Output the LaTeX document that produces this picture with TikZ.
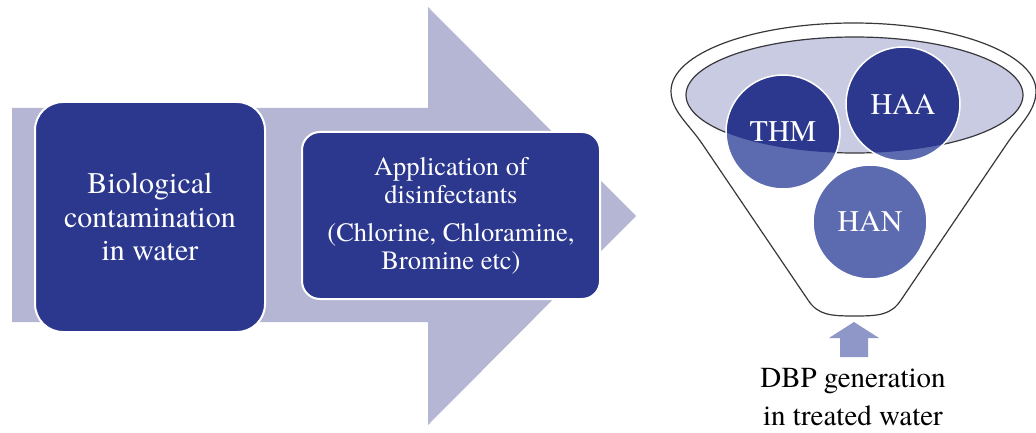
\documentclass[tikz,border=0pt]{standalone}
\usepackage{fontspec}
\setmainfont{texgyretermes-regular.otf}
\usepackage{tikz}
\usetikzlibrary{calc}
\definecolor{navy}{RGB}{43,56,142}
\definecolor{midblue}{RGB}{92,107,176}
\definecolor{lavender}{RGB}{180,182,212}
\definecolor{rimfill}{RGB}{201,203,226}
\definecolor{upblue}{RGB}{142,151,200}
\definecolor{edge}{RGB}{55,55,60}

\begin{document}
\begin{tikzpicture}[x=1pt,y=-1pt,
	blockbox/.style={draw=white,line width=2pt,fill=navy,text=white,rounded corners=#1,align=center},
	dbpball/.style={circle,draw=white,line width=1.5pt,fill=midblue,text=white,minimum size=114pt,inner sep=0pt,font=\fontsize{30}{32}\selectfont}]
	\useasboundingbox (0,0) rectangle (1036,433);
	
	%big arrow
	\fill[lavender] (12,108) -- (428,108) -- (428,7) -- (636,216) -- (428,425) -- (428,322) -- (12,322) -- cycle;
	
	\node[blockbox=28pt,minimum width=230pt,minimum height=230pt,font=\fontsize{30}{33.5}\selectfont] (bio) at (150,217) {Biological\\contamination\\in water};
	\node[blockbox=18pt,minimum width=298pt,minimum height=167pt,font=\fontsize{26.5}{28}\selectfont] (dis) at (451,215.5) {Application of\\disinfectants\\[10pt](Chlorine, Chloramine,\\Bromine etc)};
	
	%funnel
	\coordinate (rim) at (854.5,95);
	\draw[edge,line width=1.2pt] (671,91) arc[start angle=180,end angle=360,x radius=182.5,y radius=68]
		.. controls (1036,111) and (1020,124) .. (1006,145) -- (901,300)
		.. controls (891,315) and (879,316) .. (854.5,316)
		.. controls (830,316) and (818,315) .. (808,300) -- (703,145)
		.. controls (689,124) and (671,111) .. cycle;
	\draw[edge,fill=rimfill,line width=1.2pt] (rim) ellipse[x radius=168.5,y radius=58];
	
	\begin{scope}[every node/.style={dbpball}]
	\node[path picture={\fill[navy] (rim) ellipse[x radius=168.5,y radius=58];}] (thm) at (783,132) {THM};
	\node[path picture={\fill[navy] (rim) ellipse[x radius=168.5,y radius=58];}] (haa) at (903,104) {HAA};
	\node (han) at (870,222) {HAN};
	\end{scope}
	
	%output
	\fill[upblue] (840,357) -- (840,338) -- (829,338) -- (854,322) -- (879,338) -- (868,338) -- (868,357) -- cycle;
	\node[align=center,font=\fontsize{29}{38}\selectfont] (dbp) at (853,397) {DBP generation\\in treated water};
\end{tikzpicture}
\end{document}
